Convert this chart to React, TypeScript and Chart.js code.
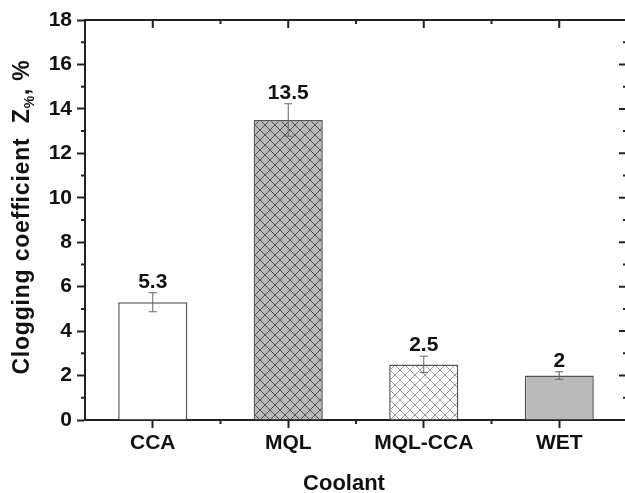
import React, { useEffect, useRef } from "react";
import { Chart, registerables } from "chart.js";

Chart.register(...registerables);

const categories = ["CCA", "MQL", "MQL-CCA", "WET"];
const values = [5.3, 13.5, 2.5, 2];
const errors = [0.43, 0.73, 0.37, 0.17];
const valueLabels = ["5.3", "13.5", "2.5", "2"];
const yMin = 0;
const yMax = 18;
const yStep = 2;
const xTitle = "Coolant";
const yTitleMain = "Clogging coefficient  Z";
const yTitleSub = "%";
const yTitleEnd = ", %";

const FONT = "'Liberation Sans', Arial, Helvetica, sans-serif";
const AXIS = "#222";

function makeHatch(bg: string, line: string): CanvasPattern | string {
  const c = document.createElement("canvas");
  c.width = 10;
  c.height = 10;
  const g = c.getContext("2d");
  if (!g) return bg;
  g.fillStyle = bg;
  g.fillRect(0, 0, 10, 10);
  g.strokeStyle = line;
  g.lineWidth = 1;
  g.beginPath();
  g.moveTo(-1, -1);
  g.lineTo(11, 11);
  g.moveTo(11, -1);
  g.lineTo(-1, 11);
  g.stroke();
  const p = g.createPattern(c, "repeat");
  return p || bg;
}

const extrasPlugin = {
  id: "extras",
  afterDatasetsDraw(chart: any) {
    const ctx = chart.ctx as CanvasRenderingContext2D;
    const y = chart.scales.y;
    const meta = chart.getDatasetMeta(0);
    ctx.save();
    ctx.strokeStyle = "#666";
    ctx.lineWidth = 1;
    meta.data.forEach((bar: any, i: number) => {
      const cx = bar.x;
      const top = y.getPixelForValue(values[i] + errors[i]);
      const bot = y.getPixelForValue(values[i] - errors[i]);
      ctx.beginPath();
      ctx.moveTo(cx, top);
      ctx.lineTo(cx, bot);
      ctx.moveTo(cx - 4, top);
      ctx.lineTo(cx + 4, top);
      ctx.moveTo(cx - 4, bot);
      ctx.lineTo(cx + 4, bot);
      ctx.stroke();
      ctx.fillStyle = "#111";
      ctx.font = `bold 21px ${FONT}`;
      ctx.textAlign = "center";
      ctx.textBaseline = "alphabetic";
      ctx.fillText(valueLabels[i], cx, top - 5);
    });
    ctx.restore();
  },
  afterDraw(chart: any) {
    const ctx = chart.ctx as CanvasRenderingContext2D;
    const a = chart.chartArea;
    const x = chart.scales.x;
    const y = chart.scales.y;
    ctx.save();
    ctx.strokeStyle = AXIS;
    ctx.lineWidth = 2;
    ctx.lineCap = "butt";
    ctx.beginPath();
    ctx.moveTo(a.left - 1, a.top);
    ctx.lineTo(a.right, a.top);
    ctx.moveTo(a.right, a.top);
    ctx.lineTo(a.right, a.bottom);
    ctx.stroke();
    ctx.beginPath();
    for (let v = yMin; v <= yMax; v += 1) {
      const py = y.getPixelForValue(v);
      const major = v % yStep === 0;
      if (!major) {
        ctx.moveTo(a.left, py);
        ctx.lineTo(a.left - 4, py);
      }
      ctx.moveTo(a.right, py);
      ctx.lineTo(a.right - (major ? 8 : 4), py);
    }
    const n = categories.length;
    for (let i = 0; i < n; i++) {
      const px = x.getPixelForValue(i);
      ctx.moveTo(px, a.top);
      ctx.lineTo(px, a.top + 8);
    }
    for (let i = 0; i < n - 1; i++) {
      const px = (x.getPixelForValue(i) + x.getPixelForValue(i + 1)) / 2;
      ctx.moveTo(px, a.top);
      ctx.lineTo(px, a.top + 4);
      ctx.moveTo(px, a.bottom);
      ctx.lineTo(px, a.bottom + 4);
    }
    ctx.stroke();

    ctx.fillStyle = "#111";
    ctx.textBaseline = "alphabetic";
    ctx.font = `bold 22px ${FONT}`;
    ctx.textAlign = "center";
    ctx.fillText(xTitle, 344, 490);

    const mainFont = `bold 23px ${FONT}`;
    const subFont = `bold 14px ${FONT}`;
    (ctx as any).letterSpacing = "0.8px";
    ctx.font = mainFont;
    const w1 = ctx.measureText(yTitleMain).width;
    const w3 = ctx.measureText(yTitleEnd).width;
    ctx.font = subFont;
    const w2 = ctx.measureText(yTitleSub).width;
    const total = w1 + w2 + w3;
    ctx.translate(29, 217);
    ctx.rotate(-Math.PI / 2);
    ctx.textAlign = "left";
    let cx = -total / 2;
    ctx.font = mainFont;
    ctx.fillText(yTitleMain, cx, 0);
    cx += w1;
    ctx.font = subFont;
    ctx.fillText(yTitleSub, cx, 5);
    cx += w2;
    ctx.font = mainFont;
    ctx.fillText(yTitleEnd, cx, 0);
    (ctx as any).letterSpacing = "0px";
    ctx.restore();
  },
};

export default function App() {
  const ref = useRef<HTMLCanvasElement | null>(null);
  useEffect(() => {
    if (!ref.current) return;
    const fills = [
      "#ffffff",
      makeHatch("#b8b8b8", "#505050"),
      makeHatch("#ffffff", "#9a9a9a"),
      "#b9b9b9",
    ];
    const chart = new Chart(ref.current, {
      type: "bar",
      data: {
        labels: categories,
        datasets: [
          {
            data: values,
            backgroundColor: fills as any,
            borderColor: "#555",
            borderWidth: 1.5,
            barPercentage: 0.51,
            categoryPercentage: 1,
          },
        ],
      },
      options: {
        responsive: false,
        animation: false,
        layout: { padding: { left: 0, top: 20, right: 5, bottom: 0 } },
        plugins: {
          legend: { display: false },
          tooltip: { enabled: false },
        },
        scales: {
          x: {
            type: "category",
            grid: {
              display: true,
              drawOnChartArea: false,
              drawTicks: true,
              tickLength: 8,
              tickColor: AXIS,
              tickWidth: 2,
              offset: false,
            },
            border: { display: true, color: AXIS, width: 2 },
            ticks: {
              color: "#111",
              font: { family: FONT, weight: "bold", size: 21 },
              padding: 3,
              maxRotation: 0,
            },
            afterFit: (s: any) => {
              s.height = 73;
            },
          },
          y: {
            min: yMin,
            max: yMax,
            grid: {
              display: true,
              drawOnChartArea: false,
              tickLength: 8,
              tickColor: AXIS,
              tickWidth: 2,
            },
            border: { display: true, color: AXIS, width: 2 },
            ticks: {
              stepSize: yStep,
              color: "#111",
              font: { family: FONT, weight: "bold", size: 21 },
              padding: 5,
            },
            afterFit: (s: any) => {
              s.width = 85;
            },
          },
        },
      },
      plugins: [extrasPlugin],
    });
    return () => chart.destroy();
  }, []);
  return (
    <div
      style={{
        position: "fixed",
        left: 0,
        top: 0,
        width: 625,
        height: 493,
        overflow: "hidden",
        background: "#fff",
      }}
    >
      <canvas ref={ref} width={632} height={493} style={{ display: "block" }} />
    </div>
  );
}
